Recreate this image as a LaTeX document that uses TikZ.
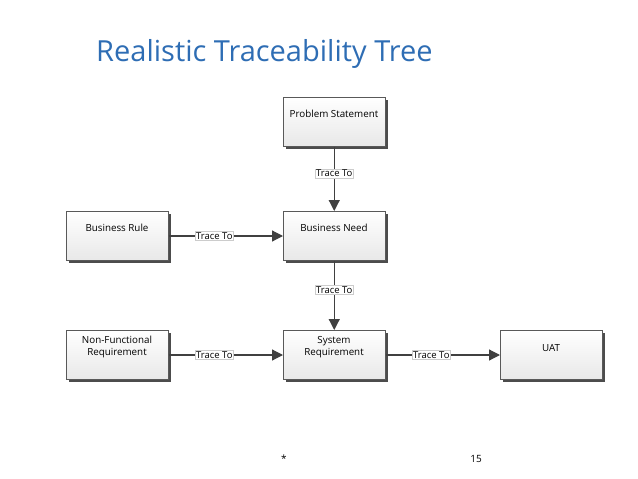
\documentclass[tikz,border=0pt]{standalone}
\usepackage{fontspec}
\setmainfont{Open Sans}
\usetikzlibrary{arrows.meta}
\definecolor{ttl}{HTML}{2E6DB4}
\tikzset{
 box/.style={draw=gray!70!black,line width=0.5pt,top color=white,bottom color=gray!18,minimum width=102pt,minimum height=49pt,anchor=north west,inner sep=0pt},
 shad/.style={fill=gray!60!black},
 txt/.style={font=\fontsize{9.8}{11.5}\selectfont,align=center,inner sep=0pt},
 conn/.style={draw=black!75,line width=1.2pt,-{Triangle[length=11pt,width=11pt]}},
 lbl/.style={fill=white,draw=gray!40,line width=0.3pt,inner sep=1pt,font=\fontsize{9.5}{11}\selectfont}
}
\begin{document}
\begin{tikzpicture}[x=1pt,y=-1pt]
\useasboundingbox (0,0) rectangle (638,479);
\node[anchor=west,text=ttl,font=\fontsize{29}{34}\selectfont,inner sep=0pt] (title) at (96,54) {Realistic Traceability Tree};
\foreach \x/\y in {283/97,66/211,283/211,66/330,283/330,500/330}{
 \fill[shad] (\x+3,\y+3) rectangle (\x+105,\y+52);
}
\node[box] (ps) at (283,97) {};
\node[box] (br) at (66,211) {};
\node[box] (bn) at (283,211) {};
\node[box] (nfr) at (66,330) {};
\node[box] (sr) at (283,330) {};
\node[box] (uat) at (500,330) {};
\node[txt] (tps) at (334,114) {Problem Statement};
\node[txt] (tbr) at (117,228) {Business Rule};
\node[txt] (tbn) at (334,228) {Business Need};
\node[txt] (tnfr) at (117,347) {Non-Functional\\Requirement};
\node[txt] (tsr) at (334,347) {System\\Requirement};
\node[txt] (tuat) at (551,348) {UAT};
\draw[conn] (ps.south) -- node[lbl,pos=0.42]{Trace To} (bn.north);
\draw[conn] (bn.south) -- node[lbl,pos=0.42]{Trace To} (sr.north);
\draw[conn] (br.east |- 0,236) -- node[lbl,pos=0.4]{Trace To} (bn.west |- 0,236);
\draw[conn] (nfr.east |- 0,355) -- node[lbl,pos=0.4]{Trace To} (sr.west |- 0,355);
\draw[conn] (sr.east |- 0,355) -- node[lbl,pos=0.4]{Trace To} (uat.west |- 0,355);
\node[font=\fontsize{10}{12}\selectfont] (star) at (284,459) {*};
\node[font=\fontsize{10}{12}\selectfont] (pg) at (476,459) {15};
\end{tikzpicture}
\end{document}
